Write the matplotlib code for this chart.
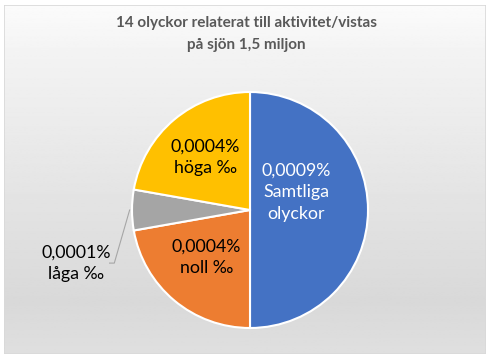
import numpy as np
import matplotlib.pyplot as plt
from matplotlib.patches import Rectangle

plt.rcParams['font.family'] = ['Lato', 'DejaVu Sans']

title = "14 olyckor relaterat till aktivitet/vistas\npå sjön 1,5 miljon"
names = ["Samtliga\nolyckor", "noll ‰", "låga ‰", "höga ‰"]
values = [0.0009, 0.0004, 0.0001, 0.0004]
colors = ["#4472c4", "#ed7d31", "#a5a5a5", "#ffc000"]

W, H = 486, 357
fig = plt.figure(figsize=(W / 100, H / 100), dpi=100)
fig.patch.set_facecolor("white")

# chart area with a soft vertical gradient
bg = fig.add_axes([4 / W, 3 / H, 482 / W, 349 / H], zorder=0)
grad = np.linspace(0, 1, 256)
shade = np.interp(grad, [0, 0.15, 0.85, 1.0], [0.985, 0.95, 0.85, 0.875])
bg.imshow(shade[:, None], aspect="auto", cmap="gray", vmin=0, vmax=1,
          extent=[0, 1, 0, 1], origin="upper")
bg.add_patch(Rectangle((0, 0), 1, 1, transform=bg.transAxes, fill=False,
                       edgecolor="#d9d9d9", linewidth=1.2))
bg.set_axis_off()

r_px = 118
cx, cy = 250, H - 210
ax = fig.add_axes([(cx - r_px) / W, (cy - r_px) / H, 2 * r_px / W, 2 * r_px / H], zorder=1)
wedges, _ = ax.pie(values, colors=colors, startangle=90, counterclock=False,
                   wedgeprops=dict(edgecolor="white", linewidth=1.5))
ax.set_xlim(-1, 1)
ax.set_ylim(-1, 1)
ax.set_axis_off()

def fmt(v):
    return f"{v:.4f}".replace(".", ",") + "%"

# label positions (x, y) in pie coordinates
label_pos = [(0.39, 0.15), (-0.37, -0.40), (-1.47, -0.45), (-0.38, 0.45)]
label_col = ["white", "black", "black", "black"]
for name, v, (x, y), c in zip(names, values, label_pos, label_col):
    ax.text(x, y, f"{fmt(v)}\n{name}", ha="center", va="center", color=c,
            fontsize=12.8, linespacing=1.4)

# leader line for the small slice
w = wedges[2]
mid = np.deg2rad((w.theta1 + w.theta2) / 2)
p0 = (1.02 * np.cos(mid), 1.02 * np.sin(mid))
ax.plot([p0[0], -1.15, -1.19], [p0[1], -0.45, -0.45], color="#a6a6a6",
        linewidth=0.8, clip_on=False)

fig.text(246 / W, 1 - 34 / H, title, ha="center", va="center", color="#595959",
         fontsize=11, fontweight="bold", linespacing=1.65)

fig.savefig("out.png", dpi=100)
